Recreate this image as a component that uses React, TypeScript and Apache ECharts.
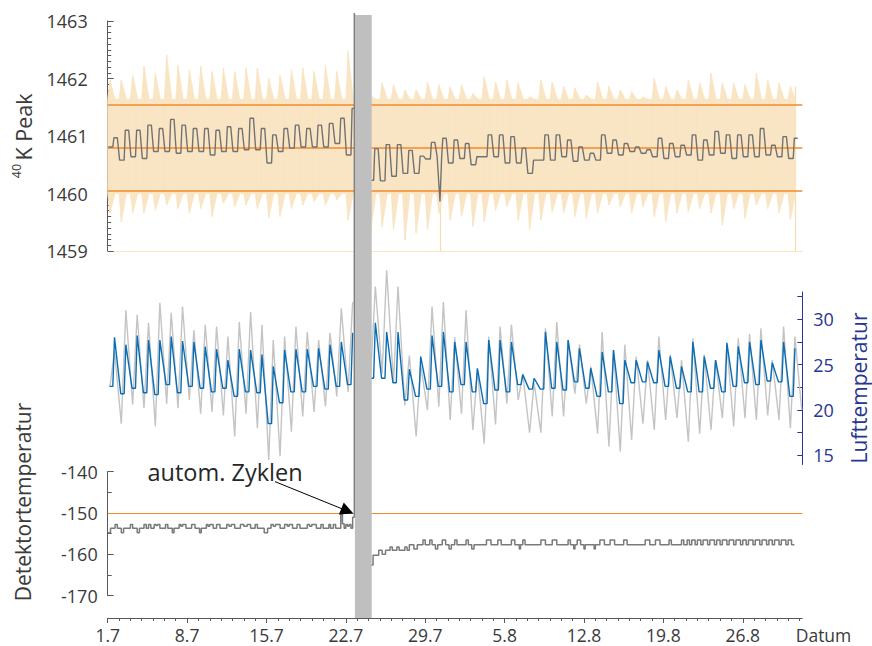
import React, { useEffect, useRef } from "react";
import * as echarts from "echarts";

// ---------- axis / tick data ----------
const xTickDays = [0, 7, 14, 21, 28, 35, 42, 49, 56];
const xTickLabels = ["1.7", "8.7", "15.7", "22.7", "29.7", "5.8", "12.8", "19.8", "26.8"];
const xMaxDay = 61.25; // days after 1.7
const dayTicks = Array.from({ length: 62 }, (_, i) => i);
const cycleBand = [21.8, 23.28]; // automatic cycle (grey band), days
const tempTicks = [15, 17.5, 20, 22.5, 25, 27.5, 30, 32.5];
const tempLabels = [15, 20, 25, 30];

// ---------- 40K peak (per day: night level, afternoon level) ----------
const k40Low = [1460.81, 1460.58, 1460.64, 1460.61, 1460.73, 1460.73, 1460.70, 1460.73, 1460.73, 1460.67,
  1460.73, 1460.73, 1460.76, 1460.76, 1460.53, 1460.73, 1460.79, 1460.81, 1460.81, 1460.81,
  1460.87, 1460.67, null, 1460.23, 1460.22, 1460.30, 1460.35, 1460.35, 1460.60, 1460.64,
  1460.53, 1460.61, 1460.50, 1460.64, 1460.64, 1460.53, 1460.53, 1460.35, 1460.58, 1460.58,
  1460.64, 1460.56, 1460.58, 1460.58, 1460.70, 1460.67, 1460.73, 1460.70, 1460.64, 1460.61,
  1460.64, 1460.67, 1460.58, 1460.67, 1460.70, 1460.61, 1460.64, 1460.64, 1460.67, 1460.64,
  1460.61];
const k40High = [1460.97, 1461.10, 1461.10, 1461.19, 1461.13, 1461.29, 1461.19, 1461.13, 1461.13, 1461.10,
  1461.16, 1461.13, 1461.31, 1461.13, 1461.02, 1461.13, 1461.19, 1461.13, 1461.19, 1461.22,
  1461.31, 1461.48, null, 1460.78, 1460.85, 1460.85, 1460.75, 1460.65, 1460.89, 1460.96,
  1460.93, 1460.87, 1460.64, 1461.02, 1461.02, 1460.99, 1460.79, 1460.58, 1461.02, 1461.02,
  1460.93, 1460.81, 1460.70, 1461.02, 1460.93, 1460.87, 1460.81, 1460.76, 1460.96, 1460.87,
  1460.84, 1461.02, 1460.93, 1461.08, 1461.02, 1461.02, 1461.02, 1461.13, 1460.84, 1460.99,
  1460.96];
const k40Spike = [29.3, 1459.86];
// uncertainty band: daily upper spike, lower spike, and resting levels
const bandUpperPeak = [1461.97, 1461.97, 1462.06, 1462.21, 1462.09, 1462.41, 1462.23, 1462.15, 1462.21, 1462.12,
  1462.18, 1462.12, 1462.18, 1462.18, 1462.00, 1462.06, 1462.15, 1462.18, 1462.12, 1462.23,
  1462.12, 1462.47, null, 1461.70, 1461.92, 1461.89, 1461.80, 1461.80, 1461.94, 1461.89,
  1461.85, 1461.89, 1461.74, 1462.03, 1461.94, 1461.97, 1461.92, 1461.68, 1461.97, 1461.94,
  1461.86, 1461.83, 1461.71, 1461.94, 1461.86, 1461.80, 1461.77, 1461.68, 1462.00, 1461.86,
  1461.80, 1461.97, 1461.92, 1462.09, 1461.92, 1461.92, 1461.89, 1462.09, 1461.97, 1461.92,
  1461.86];
const bandLowerDip = [1459.66, 1459.51, 1459.66, 1459.66, 1459.71, 1459.80, 1459.74, 1459.66, 1459.74, 1459.60,
  1459.83, 1459.77, 1459.80, 1459.74, 1459.57, 1459.60, 1459.74, 1459.80, 1459.86, 1459.80,
  1459.89, 1459.54, null, 1459.37, 1459.42, 1459.37, 1459.19, 1459.31, 1459.37, 1459.66,
  1459.54, 1459.60, 1459.43, 1459.51, 1459.71, 1459.77, 1459.54, 1459.37, 1459.54, 1459.68,
  1459.66, 1459.60, 1459.57, 1459.66, 1459.80, 1459.77, 1459.66, 1459.77, 1459.60, 1459.51,
  1459.66, 1459.68, 1459.74, 1459.66, 1459.45, 1459.74, 1459.57, 1459.80, 1459.74, 1459.66,
  1459.54];
const bandUpperRest = 1461.64;
const bandLowerRest = 1460.0;
const bandDropDays = [29.3, 60.6];
const bandDropTop = [1459.9, 1461.86];
const k40Limits = [1461.54, 1460.79, 1460.04];

// ---------- temperatures (per day: minimum, maximum) ----------
const airMin = [22.6, 21.8, 22.4, 21.9, 21.7, 22.8, 21.9, 22.6, 22.4, 22.0,
  22.4, 21.5, 22.0, 21.9, 18.5, 20.8, 22.0, 22.0, 22.6, 22.3,
  22.6, 22.8, null, 23.5, 23.5, 23.0, 21.1, 21.5, 22.3, 22.6,
  22.0, 22.8, 22.0, 20.7, 22.2, 22.0, 22.8, 22.3, 22.3, 22.4,
  22.2, 23.1, 22.4, 21.5, 22.0, 20.7, 23.0, 23.1, 23.0, 22.6,
  22.4, 22.0, 22.0, 22.4, 22.0, 22.6, 23.0, 22.8, 23.2, 23.1,
  21.5];
const airMax = [28.0, 27.2, 28.2, 27.7, 27.7, 28.1, 27.6, 27.5, 27.0, 26.7,
  25.5, 26.7, 26.6, 26.1, 24.8, 26.6, 26.7, 26.7, 26.8, 27.2,
  27.5, 28.5, null, 29.6, 28.6, 28.6, 24.5, 25.9, 28.2, 28.6,
  27.5, 27.5, 24.6, 27.7, 27.7, 27.5, 23.9, 23.5, 28.6, 27.5,
  27.7, 26.8, 24.6, 26.4, 26.6, 25.5, 25.5, 25.3, 26.6, 25.9,
  24.8, 27.5, 25.9, 25.5, 27.4, 27.0, 27.5, 27.7, 25.2, 27.5,
  26.8];
const refMin = [22.6, 18.5, 20.6, 20.2, 18.2, 20.7, 20.2, 21.1, 19.6, 19.8,
  19.4, 17.1, 19.6, 18.0, 14.5, 14.9, 17.6, 19.3, 19.8, 20.4,
  21.5, 22.0, null, 24.0, 24.0, 23.0, 20.5, 17.1, 20.0, 20.4,
  18.9, 19.6, 17.8, 16.3, 18.4, 20.7, 21.1, 17.5, 17.5, 19.3,
  19.3, 21.8, 20.7, 17.4, 16.0, 15.4, 16.7, 18.5, 17.8, 18.9,
  19.1, 16.5, 17.4, 17.8, 19.1, 18.2, 19.1, 18.9, 19.4, 18.9,
  18.0];
const refMax = [26.5, 31.0, 30.5, 29.6, 31.8, 30.7, 31.4, 28.8, 29.4, 29.2,
  28.1, 29.7, 30.8, 29.4, 27.7, 28.1, 29.2, 28.6, 27.7, 28.5,
  31.2, 31.9, null, 33.6, 35.4, 33.6, 26.0, 25.0, 31.4, 31.9,
  28.0, 31.0, 24.4, 28.1, 29.2, 29.4, 24.0, 23.0, 29.0, 29.7,
  27.7, 27.2, 24.8, 28.6, 26.6, 27.2, 25.9, 25.5, 28.1, 26.1,
  25.5, 27.9, 26.1, 25.5, 27.2, 27.9, 28.4, 29.0, 25.5, 29.2,
  28.1];
const refTail = [61.2, 20.0];

// ---------- detector temperature (step changes: [day, °C]) ----------
const detectorSteps: [number, number | null][] = [
  [0, -154.8], [0.25, -153.7], [0.65, -152.8], [0.85, -153.7], [1.2, -154.8], [1.4, -153.7], [2.0, -152.8], [2.2, -153.7],
  [2.6, -154.8], [2.8, -153.7], [3.2, -152.8], [3.4, -153.7], [3.6, -152.8], [3.8, -153.7], [4.1, -152.8], [4.25, -153.0],
  [4.4, -152.8], [4.6, -153.7], [5.1, -152.8], [5.3, -153.7], [5.7, -154.8], [5.85, -153.7], [6.3, -152.8], [6.45, -153.2],
  [6.6, -152.8], [6.9, -153.7], [7.4, -152.8], [7.7, -153.7], [8.1, -154.8], [8.25, -153.7], [8.7, -152.8], [8.85, -153.2],
  [9.0, -152.8], [9.3, -153.7], [9.6, -152.8], [9.9, -153.7], [10.5, -152.8], [10.7, -153.2], [10.9, -152.8], [11.2, -153.7],
  [11.7, -152.8], [12.0, -153.2], [12.3, -152.8], [12.6, -153.7], [13.0, -152.8], [13.2, -153.7], [13.8, -154.8], [14.1, -153.7],
  [14.4, -152.8], [14.6, -153.2], [14.8, -152.8], [15.2, -153.7], [15.6, -152.8], [15.85, -153.2], [16.0, -152.8], [16.3, -153.7],
  [16.7, -152.8], [16.95, -153.7], [17.6, -152.8], [17.8, -153.2], [18.0, -152.8], [18.4, -153.7], [18.8, -152.8], [19.0, -153.7],
  [19.5, -152.8], [19.65, -153.7], [19.9, -152.8], [20.1, -153.7], [20.55, -150.3], [20.7, -152.6], [20.85, -153.7], [21.0, -152.8],
  [21.15, -153.2], [21.3, -152.8], [21.45, -153.7], [21.6, -151.0], [21.75, -29], [21.8, null],
  [23.2, -162.6], [23.4, -160.2], [23.9, -159.0], [24.2, -160.0], [24.5, -159.0], [24.9, -158.2], [25.1, -159.0], [25.5, -158.2],
  [25.7, -159.0], [26.2, -158.2], [26.4, -159.0], [26.6, -157.7], [27.0, -158.7], [27.3, -157.7], [27.8, -156.5], [28.0, -157.7],
  [28.4, -156.5], [28.6, -157.7], [28.9, -158.7], [29.1, -157.7], [29.5, -156.5], [29.8, -157.7], [30.1, -158.7], [30.3, -157.7],
  [30.6, -156.5], [30.8, -157.7], [31.6, -156.5], [31.8, -157.7], [32.1, -158.7], [32.3, -157.7], [33.4, -156.5], [33.8, -157.7],
  [34.4, -156.5], [34.7, -157.7], [35.6, -156.5], [35.9, -157.7], [36.3, -158.7], [36.4, -157.7], [36.6, -156.5], [36.8, -157.7],
  [38.2, -156.5], [38.6, -157.7], [39.2, -156.5], [39.6, -157.7], [40.6, -156.5], [40.8, -157.7], [41.1, -158.7], [41.2, -157.7],
  [41.4, -156.5], [41.7, -157.7], [42.0, -158.7], [42.1, -157.7], [42.9, -158.7], [43.0, -157.7], [43.4, -156.5], [43.8, -157.7],
  [44.3, -156.5], [44.7, -157.7], [45.5, -156.5], [45.8, -157.7], [47.4, -156.5], [47.8, -157.7], [48.3, -156.5], [48.7, -157.7],
  [49.5, -156.5], [49.7, -157.7], [50.6, -156.5], [50.8, -157.7], [51.1, -156.5], [51.3, -157.7], [51.5, -156.5], [51.8, -157.7],
  [52.0, -156.5], [52.3, -157.7], [52.5, -156.5], [52.9, -157.7], [53.1, -156.5], [53.5, -157.7], [53.7, -156.5], [54.0, -157.7],
  [54.2, -156.5], [54.6, -157.7], [54.8, -156.5], [55.2, -157.7], [55.4, -156.5], [55.8, -157.7], [56.0, -156.5], [56.3, -157.7],
  [56.5, -156.5], [56.9, -157.7], [57.1, -156.5], [57.5, -157.7], [57.7, -156.5], [58.1, -157.7], [58.3, -156.5], [58.6, -157.7],
  [58.8, -156.5], [59.2, -157.7], [59.4, -156.5], [59.8, -157.7], [60.0, -156.5], [60.3, -157.7], [60.55, -157.7],
];
const detectorLimit = -150;
const arrowFrom = [14.75, -142.4];
const arrowTo = [21.13, -149.5];

// ---------- build series data from the readings ----------
const k40Pts: any[] = [];
k40Low.forEach((lo, d) => {
  const hi = k40High[d];
  if (lo == null || hi == null) { k40Pts.push([d + 0.5, null]); return; }
  k40Pts.push([d + 0.05, lo], [d + 0.45, lo], [d + 0.55, hi], [d + 0.85, hi]);
});
k40Pts.push(k40Spike);
k40Pts.sort((a, b) => a[0] - b[0]);

type BandItem = { x: number; lo: number | null; up: number | null };
const bandItems: BandItem[] = [];
bandUpperPeak.forEach((pk, d) => {
  const dip = bandLowerDip[d];
  if (pk == null || dip == null) { bandItems.push({ x: d + 0.5, lo: null, up: null }); return; }
  bandItems.push({ x: d, lo: bandLowerRest, up: bandUpperRest });
  bandItems.push({ x: d + 0.2, lo: dip, up: pk });
  bandItems.push({ x: d + 0.65, lo: bandLowerRest, up: bandUpperRest });
});
const bandData = bandItems.map((b) => [b.x, b.lo == null ? "-" : b.lo, b.up == null ? "-" : b.up]);

const airPts: any[] = [];
airMin.forEach((mn, d) => {
  const mx = airMax[d];
  if (mn == null || mx == null) { airPts.push([d + 0.5, null]); return; }
  airPts.push([d + 0.15, mn], [d + 0.45, mn], [d + 0.6, mx]);
});
const refPts: any[] = [];
refMin.forEach((mn, d) => {
  const mx = refMax[d];
  if (mn == null || mx == null) { refPts.push([d + 0.5, null]); return; }
  refPts.push([d + 0.2, mn], [d + 0.6, mx]);
});
refPts.push(refTail);

const detPts = detectorSteps.map((p) => [p[0], p[1]]);

// ---------- styles ----------
const FONT = "'Open Sans', 'Noto Sans', sans-serif";
const TEXT = "#3a3a3a";
const AXIS = "#595959";
const NAVY = "#283593";
const PEACH = "#f9e5c3";
const ORANGE = "#f28a2e";
const DARK = "#727272";
const BLUE = "#0a6db3";
const LIGHTGRAY = "#c4c4c4";
const BANDGRAY = "#bfbfbf";

const L = 107.7;
const R = 69.7;
const plain = (v: number) => String(v);

export default function App() {
  const ref = useRef<HTMLDivElement>(null);
  useEffect(() => {
    document.body.style.margin = "0";
    const chart = echarts.init(ref.current!, null, { renderer: "svg" });
    const option: any = {
      animation: false,
      grid: [
        { left: L, right: R, top: 21, height: 230 },
        { left: L, right: R, top: 292, height: 172.5 },
        { left: L, right: R, top: 471.7, height: 124 },
        { left: L, right: R, top: 15, height: 603 },
      ],
      xAxis: [
        { gridIndex: 0, type: "value", min: 0, max: xMaxDay, axisLine: { show: true, onZero: false, lineStyle: { color: "#f8e4c6", width: 1 } }, axisTick: { show: false }, axisLabel: { show: false }, splitLine: { show: false } },
        { gridIndex: 1, type: "value", min: 0, max: xMaxDay, show: false },
        {
          gridIndex: 2, type: "value", min: 0, max: xMaxDay, position: "bottom", offset: 22.3,
          axisLine: { show: true, onZero: false, lineStyle: { color: AXIS, width: 1 } },
          axisTick: { show: true, customValues: xTickDays, length: 5, lineStyle: { color: AXIS } },
          axisLabel: {
            customValues: xTickDays, margin: 8, fontSize: 17.5, color: TEXT, fontFamily: FONT,
            formatter: (v: number) => { const i = xTickDays.indexOf(Math.round(v)); return i >= 0 ? xTickLabels[i] : ""; },
          },
          splitLine: { show: false },
        },
        {
          gridIndex: 3, type: "value", min: 0, max: xMaxDay, position: "bottom",
          axisLine: { show: false, onZero: false }, axisLabel: { show: false }, splitLine: { show: false },
          axisTick: { show: true, customValues: dayTicks, length: 3, lineStyle: { color: AXIS } },
        },
      ],
      yAxis: [
        {
          gridIndex: 0, type: "value", min: 1459, max: 1463, interval: 1,
          axisLine: { show: true, onZero: false, lineStyle: { color: AXIS } },
          axisTick: { show: true, inside: true, length: 6, lineStyle: { color: AXIS } },
          minorTick: { show: true, splitNumber: 10, length: 3.5, lineStyle: { color: AXIS } },
          axisLabel: { margin: 20, fontSize: 18, color: TEXT, fontFamily: FONT, formatter: plain },
          splitLine: { show: false },
        },
        {
          gridIndex: 1, type: "value", position: "right", min: 14, max: 33,
          axisLine: { show: true, onZero: false, lineStyle: { color: NAVY } },
          axisTick: { show: true, inside: true, length: 5, customValues: tempTicks, lineStyle: { color: NAVY } },
          axisLabel: { customValues: tempLabels, margin: 11, fontSize: 18, color: NAVY, fontFamily: FONT, formatter: plain },
          splitLine: { show: false },
        },
        {
          gridIndex: 2, type: "value", min: -170, max: -140, interval: 10,
          axisLine: { show: true, onZero: false, lineStyle: { color: AXIS } },
          axisTick: { show: true, inside: true, length: 6, lineStyle: { color: AXIS } },
          minorTick: { show: true, splitNumber: 2, length: 4, lineStyle: { color: AXIS } },
          axisLabel: { margin: 10, fontSize: 18, color: TEXT, fontFamily: FONT, formatter: plain },
          splitLine: { show: false },
        },
        { gridIndex: 3, type: "value", min: 0, max: 1, show: false },
      ],
      series: [
        {
          type: "custom", xAxisIndex: 0, yAxisIndex: 0, data: bandData, silent: true, z: 1,
          encode: { x: 0, y: [1, 2] },
          renderItem: (params: any, api: any) => {
            const i = params.dataIndex;
            const a = bandItems[i];
            const b = bandItems[i + 1];
            if (!b || a.lo == null || a.up == null || b.lo == null || b.up == null) return null;
            const pts = [
              api.coord([a.x, a.lo]), api.coord([b.x, b.lo]),
              api.coord([b.x, b.up]), api.coord([a.x, a.up]),
            ];
            return { type: "polygon", shape: { points: pts }, style: { fill: PEACH, stroke: PEACH, lineWidth: 0.8 } };
          },
        },
        {
          // thin drops of the band down to the axis floor
          type: "line", xAxisIndex: 0, yAxisIndex: 0, data: [], symbol: "none", silent: true, z: 1,
          markLine: {
            silent: true, symbol: ["none", "none"], label: { show: false }, z: 1,
            lineStyle: { color: "#f6dcb0", width: 1.2, type: "solid" },
            data: bandDropDays.map((x, i) => [{ coord: [x, 1459] }, { coord: [x, bandDropTop[i]] }]),
          },
        },
        {
          type: "line", xAxisIndex: 0, yAxisIndex: 0, data: k40Pts, symbol: "none",
          lineStyle: { color: DARK, width: 1.4 }, z: 6, silent: true,
          markLine: {
            silent: true, symbol: ["none", "none"], label: { show: false }, z: 3,
            lineStyle: { color: ORANGE, width: 1.5, type: "solid" },
            data: k40Limits.map((v) => ({ yAxis: v })),
          },
        },
        {
          type: "line", xAxisIndex: 1, yAxisIndex: 1, data: refPts, symbol: "none",
          lineStyle: { color: LIGHTGRAY, width: 1.4 }, clip: false, z: 2, silent: true,
        },
        {
          type: "line", xAxisIndex: 1, yAxisIndex: 1, data: airPts, symbol: "none",
          lineStyle: { color: BLUE, width: 1.4 }, z: 3, silent: true,
        },
        {
          type: "line", xAxisIndex: 2, yAxisIndex: 2, data: detPts, step: "end", symbol: "none",
          lineStyle: { color: "#7a7a7a", width: 1.5 }, clip: false, z: 4, silent: true,
          markLine: {
            silent: true, symbol: ["none", "none"], label: { show: false }, z: 3,
            lineStyle: { color: ORANGE, width: 1, type: "solid" },
            data: [{ yAxis: detectorLimit }],
          },
        },
        {
          // annotation arrow "autom. Zyklen"
          type: "line", xAxisIndex: 2, yAxisIndex: 2, data: [], symbol: "none", silent: true, z: 30,
          markLine: {
            silent: true, symbol: ["none", "none"], label: { show: false }, z: 30,
            lineStyle: { color: "#000", width: 1, type: "solid" },
            itemStyle: { color: "#000" },
            data: [[
              { coord: arrowFrom, symbol: "none" },
              { coord: arrowTo, symbol: "triangle", symbolSize: 13 },
            ]],
          },
        },
        {
          type: "line", xAxisIndex: 3, yAxisIndex: 3, data: [], symbol: "none", z: 10, silent: true,
          markArea: {
            silent: true, z: 20, itemStyle: { color: BANDGRAY, opacity: 1 },
            data: [[{ xAxis: cycleBand[0] }, { xAxis: cycleBand[1] }]],
          },
        },
      ],
      graphic: [
        { type: "text", x: 23, y: 127, rotation: Math.PI / 2, style: { text: "K Peak", fontSize: 21.5, fontFamily: FONT, fill: TEXT, align: "center", verticalAlign: "middle" } },
        { type: "text", x: 16.5, y: 171, rotation: Math.PI / 2, style: { text: "40", fontSize: 12.5, fontFamily: FONT, fill: TEXT, align: "center", verticalAlign: "middle" } },
        { type: "text", x: 23, y: 502, rotation: Math.PI / 2, style: { text: "Detektortemperatur", fontSize: 21, fontFamily: FONT, fill: TEXT, align: "center", verticalAlign: "middle" } },
        { type: "text", x: 859, y: 388, rotation: Math.PI / 2, style: { text: "Lufttemperatur", fontSize: 21, fontFamily: FONT, fill: NAVY, align: "center", verticalAlign: "middle" } },
        { type: "text", x: 823.5, y: 635, style: { text: "Datum", fontSize: 17.5, fontFamily: FONT, fill: TEXT, align: "center", verticalAlign: "middle" } },
        { type: "text", x: 225, y: 472, z: 30, style: { text: "autom. Zyklen", fontSize: 23.5, fontFamily: FONT, fill: "#262626", align: "center", verticalAlign: "middle" } },
      ],
    };
    chart.setOption(option);
    return () => chart.dispose();
  }, []);
  return <div ref={ref} style={{ width: 872, height: 646 }} />;
}
